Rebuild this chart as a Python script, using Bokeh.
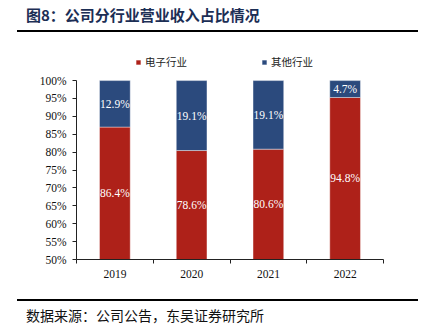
from bokeh.plotting import figure
from bokeh.layouts import column
from bokeh.models import (Range1d, FixedTicker, Legend, LegendItem, Div,
                          ColumnDataSource, CustomJSTickFormatter)
from bokeh.core.properties import value
from bokeh.embed import file_html
from bokeh.resources import INLINE

title = "图8：公司分行业营业收入占比情况"
source_note = "数据来源：公司公告，东吴证券研究所"
years = ["2019", "2020", "2021", "2022"]
series_names = ["电子行业", "其他行业"]
electronics = [86.4, 78.6, 80.6, 94.8]
others = [12.9, 19.1, 19.1, 4.7]
y_ticks = [50, 55, 60, 65, 70, 75, 80, 85, 90, 95, 100]

RED = "#AE2119"
BLUE = "#2B4A7D"
SERIF = "Liberation Serif"
CJK = "Noto Sans CJK SC"
W = 421

head_html = (
    f'<div style="position:relative;width:{W}px;height:40px;margin:0;padding:0;">'
    f'<div style="position:absolute;left:26px;top:5px;line-height:20px;white-space:nowrap;'
    f"font-family:'{CJK}';font-size:15px;font-weight:bold;color:#1C2E55;\">{title}</div>"
    '<div style="position:absolute;left:17px;top:29.5px;width:401px;height:2.4px;background:#000;"></div>'
    '</div>')
foot_html = (
    f'<div style="position:relative;width:{W}px;height:35px;margin:0;padding:0;">'
    '<div style="position:absolute;left:17px;top:3px;width:401px;height:2px;background:#000;"></div>'
    f'<div style="position:absolute;left:26px;top:9px;line-height:20px;white-space:nowrap;'
    f"font-family:'{CJK}';font-size:14px;color:#111111;\">{source_note}</div>"
    '</div>')

head = Div(text=head_html, width=W, height=40, margin=(0, 0, 0, 0))
foot = Div(text=foot_html, width=W, height=35, margin=(0, 0, 0, 0))

tot = [e + o for e, o in zip(electronics, others)]
e_share = [e / t * 100 for e, t in zip(electronics, tot)]
o_share = [o / t * 100 for o, t in zip(others, tot)]
xs = [i + 0.5 for i in range(len(years))]
ymin, ymax = y_ticks[0], y_ticks[-1]
y_top = 111.2  # headroom above 100% for the legend inside the frame

src = ColumnDataSource(dict(x=xs, e=e_share, o=o_share))

p = figure(width=W, height=256, output_backend="svg", toolbar_location=None,
           x_range=Range1d(0, len(years)), y_range=Range1d(ymin, y_top),
           min_border_left=76, min_border_right=38, min_border_top=0, min_border_bottom=37,
           margin=(0, 0, 0, 0))
p.outline_line_color = None
p.xgrid.visible = False
p.ygrid.visible = False

rs = p.vbar_stack(["e", "o"], x="x", width=0.4, source=src, color=[RED, BLUE],
                  line_color="white", line_alpha=0.5, line_width=0.8)

lab = ColumnDataSource(dict(
    x=xs + xs,
    y=[(ymin + s) / 2 for s in e_share] + [(s + ymax) / 2 for s in e_share],
    t=[f"{v:.1f}%" for v in electronics] + [f"{v:.1f}%" for v in others]))
p.text(x="x", y="y", text="t", source=lab, text_color="white", text_align="center",
       text_baseline="middle", text_font=value(SERIF), text_font_size="11.5px")

p.yaxis.ticker = FixedTicker(ticks=y_ticks)
p.yaxis.bounds = (ymin, ymax)
p.yaxis.formatter = CustomJSTickFormatter(code="return tick + '%';")
p.yaxis.major_label_text_font = SERIF
p.yaxis.major_label_text_font_size = "11.5px"
p.yaxis.major_label_text_color = "#111111"
p.yaxis.major_tick_out = 4
p.yaxis.major_tick_in = 0
p.yaxis.minor_tick_line_color = None
p.yaxis.axis_line_color = "#222222"
p.yaxis.major_tick_line_color = "#222222"
p.yaxis.major_label_standoff = 6

p.xaxis.ticker = FixedTicker(ticks=xs, minor_ticks=list(range(len(years) + 1)))
p.xaxis.major_label_overrides = {x: y for x, y in zip(xs, years)}
p.xaxis.major_label_text_font = SERIF
p.xaxis.major_label_text_font_size = "11.5px"
p.xaxis.major_label_text_color = "#111111"
p.xaxis.major_tick_out = 0
p.xaxis.major_tick_in = 0
p.xaxis.minor_tick_out = 4
p.xaxis.minor_tick_in = 0
p.xaxis.axis_line_color = "#222222"
p.xaxis.minor_tick_line_color = "#222222"
p.xaxis.major_label_standoff = 6

leg = Legend(items=[LegendItem(label=series_names[0], renderers=[rs[0]]),
                    LegendItem(label=series_names[1], renderers=[rs[1]])],
             orientation="horizontal", location=(59, 190), margin=0, padding=0,
             glyph_width=6, glyph_height=6, label_height=12, label_standoff=4, spacing=74,
             label_text_font=CJK, label_text_font_size="10.5px", label_text_color="#222222",
             border_line_color=None, background_fill_alpha=0)
p.add_layout(leg, "center")

layout = column(head, p, foot, spacing=0, margin=(0, 0, 0, 0))
open("out.html", "w").write(file_html(layout, INLINE))
